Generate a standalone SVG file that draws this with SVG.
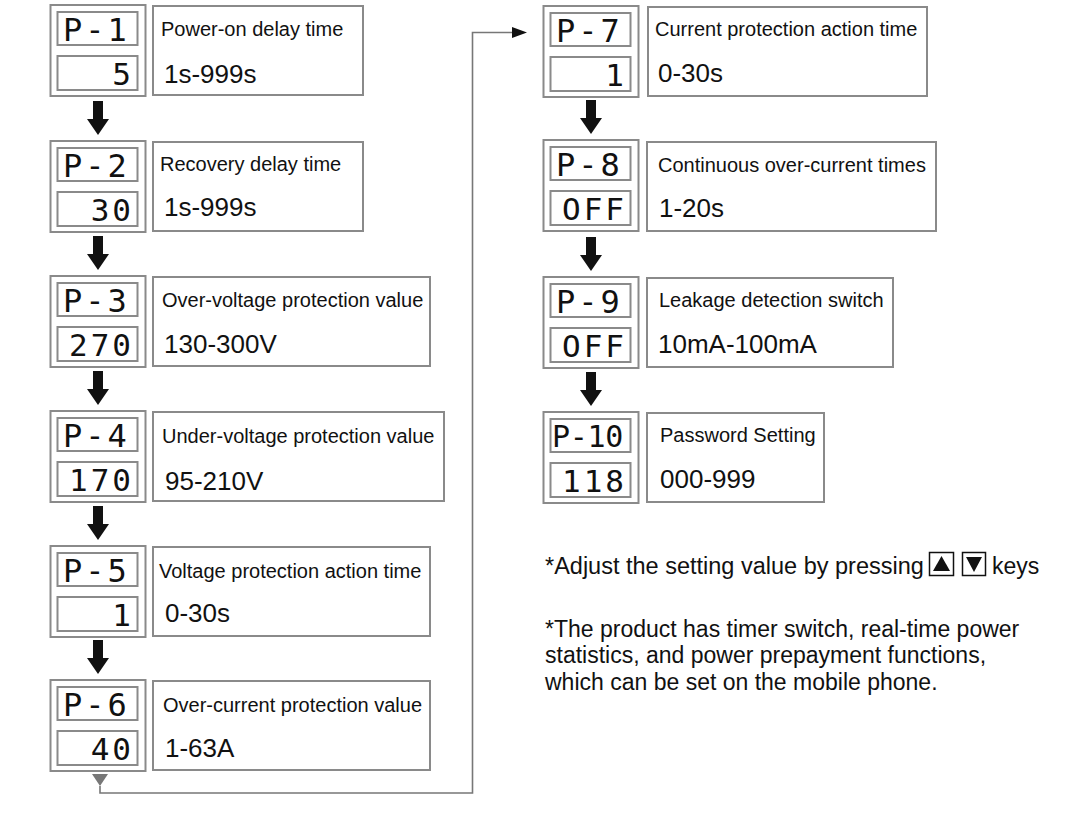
<svg xmlns="http://www.w3.org/2000/svg" width="1087" height="816" viewBox="0 0 1087 816">
<style>
.box{fill:#fff;stroke:#8a8a8a;stroke-width:2}
.lbl{font-family:"Liberation Sans",Arial,sans-serif;font-size:20px;fill:#111}
.val{font-family:"Liberation Sans",Arial,sans-serif;font-size:26px;fill:#111}
.seg{font-family:"DejaVu Sans Mono","Liberation Mono",monospace;font-size:32px;fill:#111;letter-spacing:3px}
.seg4{font-family:"DejaVu Sans Mono","Liberation Mono",monospace;font-size:30px;fill:#111;letter-spacing:-0.3px}
.num{font-family:"DejaVu Sans Mono","Liberation Mono",monospace;font-size:31px;fill:#111;letter-spacing:3px;text-anchor:end}
.note{font-family:"Liberation Sans",Arial,sans-serif;font-size:23px;fill:#111}
.conn{fill:none;stroke:#777;stroke-width:1.6}
</style>
<defs>
<path id="down" d="M-5,-34 H5 V-16 H11 L0,0 L-11,-16 H-5 Z" fill="#111"/>
</defs>
<rect width="1087" height="816" fill="#fff"/>

<g id="p1">
<rect class="box" x="50.5" y="5" width="95" height="91"/>
<rect class="box" x="57.5" y="12" width="80" height="33"/>
<rect class="box" x="57.5" y="56" width="80" height="34"/>
<text class="seg" x="63" y="41">P-1</text>
<text class="num" x="134" y="85">5</text>
<rect class="box" x="153" y="6" width="210" height="89"/>
<text class="lbl" x="161" y="36">Power-on delay time</text>
<text class="val" x="164" y="83">1s-999s</text>
</g>

<g id="p2">
<rect class="box" x="50.5" y="141" width="95" height="91"/>
<rect class="box" x="57.5" y="148" width="80" height="33"/>
<rect class="box" x="57.5" y="192" width="80" height="34"/>
<text class="seg" x="63" y="177">P-2</text>
<text class="num" x="134" y="221">30</text>
<rect class="box" x="153" y="142" width="210" height="89"/>
<text class="lbl" x="160" y="171">Recovery delay time</text>
<text class="val" x="164" y="216">1s-999s</text>
</g>

<g id="p3">
<rect class="box" x="50.5" y="276" width="95" height="91"/>
<rect class="box" x="57.5" y="283" width="80" height="33"/>
<rect class="box" x="57.5" y="327" width="80" height="34"/>
<text class="seg" x="63" y="312">P-3</text>
<text class="num" x="134" y="356">270</text>
<rect class="box" x="153" y="277" width="277" height="89"/>
<text class="lbl" x="162" y="307">Over-voltage protection value</text>
<text class="val" x="164" y="353">130-300V</text>
</g>

<g id="p4">
<rect class="box" x="50.5" y="411" width="95" height="91"/>
<rect class="box" x="57.5" y="418" width="80" height="33"/>
<rect class="box" x="57.5" y="462" width="80" height="34"/>
<text class="seg" x="63" y="447">P-4</text>
<text class="num" x="134" y="491">170</text>
<rect class="box" x="153" y="412" width="291" height="89"/>
<text class="lbl" x="162" y="443">Under-voltage protection value</text>
<text class="val" x="165" y="490">95-210V</text>
</g>

<g id="p5">
<rect class="box" x="50.5" y="546" width="95" height="91"/>
<rect class="box" x="57.5" y="553" width="80" height="33"/>
<rect class="box" x="57.5" y="597" width="80" height="34"/>
<text class="seg" x="63" y="582">P-5</text>
<text class="num" x="134" y="626">1</text>
<rect class="box" x="153" y="547" width="277" height="89"/>
<text class="lbl" x="159" y="578">Voltage protection action time</text>
<text class="val" x="165" y="622">0-30s</text>
</g>

<g id="p6">
<rect class="box" x="50.5" y="680" width="95" height="91"/>
<rect class="box" x="57.5" y="687" width="80" height="33"/>
<rect class="box" x="57.5" y="731" width="80" height="34"/>
<text class="seg" x="63" y="716">P-6</text>
<text class="num" x="134" y="760">40</text>
<rect class="box" x="153" y="681" width="277" height="89"/>
<text class="lbl" x="163" y="712">Over-current protection value</text>
<text class="val" x="165" y="757">1-63A</text>
</g>

<g id="p7">
<rect class="box" x="543.5" y="6" width="95" height="91"/>
<rect class="box" x="550.5" y="13" width="80" height="33"/>
<rect class="box" x="550.5" y="57" width="80" height="34"/>
<text class="seg" x="556" y="42">P-7</text>
<text class="num" x="627" y="86">1</text>
<rect class="box" x="648" y="7" width="279" height="89"/>
<text class="lbl" x="655" y="36">Current protection action time</text>
<text class="val" x="658" y="82">0-30s</text>
</g>

<g id="p8">
<rect class="box" x="543.5" y="140" width="95" height="91"/>
<rect class="box" x="550.5" y="147" width="80" height="33"/>
<rect class="box" x="550.5" y="191" width="80" height="34"/>
<text class="seg" x="556" y="176">P-8</text>
<text class="num" x="627" y="220">OFF</text>
<rect class="box" x="647" y="142" width="289" height="89"/>
<text class="lbl" x="658" y="172">Continuous over-current times</text>
<text class="val" x="659" y="217">1-20s</text>
</g>

<g id="p9">
<rect class="box" x="543.5" y="277" width="95" height="91"/>
<rect class="box" x="550.5" y="284" width="80" height="33"/>
<rect class="box" x="550.5" y="328" width="80" height="34"/>
<text class="seg" x="556" y="313">P-9</text>
<text class="num" x="627" y="357">OFF</text>
<rect class="box" x="647" y="278" width="246" height="89"/>
<text class="lbl" x="659" y="307">Leakage detection switch</text>
<text class="val" x="658" y="353">10mA-100mA</text>
</g>

<g id="p10">
<rect class="box" x="543.5" y="412" width="95" height="91"/>
<rect class="box" x="550.5" y="419" width="80" height="33"/>
<rect class="box" x="550.5" y="463" width="80" height="34"/>
<text class="seg4" x="552" y="447">P-10</text>
<text class="num" x="627" y="492">118</text>
<rect class="box" x="647" y="413" width="177" height="89"/>
<text class="lbl" x="660" y="442">Password Setting</text>
<text class="val" x="660" y="488">000-999</text>
</g>

<g id="connectors">
<use href="#down" x="98" y="135"/>
<use href="#down" x="98" y="270"/>
<use href="#down" x="98" y="405"/>
<use href="#down" x="98" y="540"/>
<use href="#down" x="98" y="674"/>
<use href="#down" x="591" y="134"/>
<use href="#down" x="591" y="271"/>
<use href="#down" x="591" y="406"/>
<path d="M92,774 L108,774 L100,786 Z" fill="#777"/>
<path class="conn" d="M100,786 V793 H472.5 V32.5 H514"/>
<path d="M512,27 L527,32.5 L512,38 Z" fill="#111"/>
</g>

<g id="notes">
<text class="note" x="545" y="574" style="font-size:23.5px">*Adjust the setting value by pressing</text>
<rect x="929.5" y="552.5" width="24" height="23" fill="none" stroke="#111" stroke-width="1.5"/>
<path d="M933,571 L950,571 L941.5,556 Z" fill="#111"/>
<rect x="962.5" y="552.5" width="23" height="23" fill="none" stroke="#111" stroke-width="1.5"/>
<path d="M966,557 L982,557 L974,572 Z" fill="#111"/>
<text class="note" x="992" y="574">keys</text>
<text class="note" x="545" y="637">*The product has timer switch, real-time power</text>
<text class="note" x="545" y="663">statistics, and power prepayment functions,</text>
<text class="note" x="545" y="690">which can be set on the mobile phone.</text>
</g>
</svg>
